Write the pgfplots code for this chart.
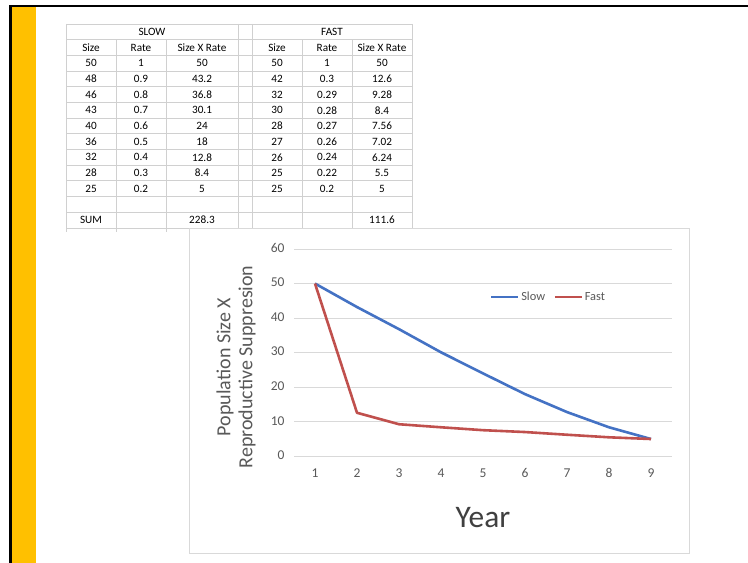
\documentclass[border=0pt]{standalone}
\usepackage{pgfplots}
\pgfplotsset{compat=1.18}
\usepackage{pgfplotstable}
\usepackage{fontspec}
\setmainfont{Carlito}

\definecolor{barYellow}{HTML}{FFC000}
\definecolor{slowBlue}{HTML}{4472C4}
\definecolor{fastRed}{HTML}{C0504D}
\definecolor{gridGray}{HTML}{D9D9D9}
\definecolor{cellGray}{HTML}{D0D0D0}
\definecolor{tickGray}{HTML}{595959}
\definecolor{titleGray}{HTML}{404040}

% Size x rate for each year
\pgfplotstableread{
year slow fast
1 50   50
2 43.2 12.6
3 36.8 9.28
4 30.1 8.4
5 24   7.56
6 18   7.02
7 12.8 6.24
8 8.4  5.5
9 5    5
}\growth

% one row of the worksheet: row number, then seven cells
\newcommand\tabrow[8]{%
  \node at (91, {539-(#1-0.5)*15.69}) {#2};
  \node at (141,{539-(#1-0.5)*15.69}) {#3};
  \node at (202,{539-(#1-0.5)*15.69}) {#4};
  \node at (245,{539-(#1-0.5)*15.69}) {#5};
  \node at (277,{539-(#1-0.5)*15.69}) {#6};
  \node at (327,{539-(#1-0.5)*15.69}) {#7};
  \node at (382,{539-(#1-0.5)*15.69}) {#8};
}

\begin{document}
\begin{tikzpicture}[x=1pt,y=1pt]
\useasboundingbox (0,0) rectangle (748,563);
\fill[white] (0,0) rectangle (748,563);

% slide frame and side bar
\fill[black] (9,558) rectangle (748,555.5);
\fill[black] (9,558) rectangle (12,0);
\fill[barYellow] (12,555.5) rectangle (35.5,0);

% worksheet grid
\begin{scope}[draw=cellGray, line width=0.8pt]
  \foreach \i in {0,...,13}
    \draw (66,{539-\i*15.69}) -- (412,{539-\i*15.69});
  \foreach \xx in {66,238,252,412}
    \draw (\xx,539) -- (\xx,523.3);
  \foreach \xx in {66,116,166,238,252,302,352,412}
    \draw (\xx,523.3) -- (\xx,331);
\end{scope}

% worksheet text
\begin{scope}[font=\fontsize{11.2}{12}\selectfont, text=black, inner sep=0pt]
  \node at (152,{539-0.5*15.69}) {SLOW};
  \node at (332,{539-0.5*15.69}) {FAST};
  \tabrow{2}{Size}{Rate}{Size X Rate}{}{Size}{Rate}{Size X Rate}
  \tabrow{3}{50}{1}{50}{}{50}{1}{50}
  \tabrow{4}{48}{0.9}{43.2}{}{42}{0.3}{12.6}
  \tabrow{5}{46}{0.8}{36.8}{}{32}{0.29}{9.28}
  \tabrow{6}{43}{0.7}{30.1}{}{30}{0.28}{8.4}
  \tabrow{7}{40}{0.6}{24}{}{28}{0.27}{7.56}
  \tabrow{8}{36}{0.5}{18}{}{27}{0.26}{7.02}
  \tabrow{9}{32}{0.4}{12.8}{}{26}{0.24}{6.24}
  \tabrow{10}{28}{0.3}{8.4}{}{25}{0.22}{5.5}
  \tabrow{11}{25}{0.2}{5}{}{25}{0.2}{5}
  \tabrow{13}{SUM}{}{228.3}{}{}{}{111.6}
\end{scope}

% chart area
\filldraw[fill=white, draw=gridGray, line width=0.8pt] (189,335) rectangle (689,10);

\begin{axis}[
  at={(294pt,106.7pt)}, anchor=south west, scale only axis,
  width=378pt, height=207.3pt,
  xmin=0.5, xmax=9.5, ymin=0, ymax=60,
  xtick={1,...,9}, ytick={0,10,...,60},
  axis line style={draw=none}, tick style={draw=none},
  ymajorgrids, major grid style={gridGray, line width=0.8pt},
  /pgf/number format/assume math mode=true,
  tick label style={font=\fontsize{13.5}{15}\selectfont, text=tickGray,
    text height=0.65em, text depth=0pt},
  yticklabel style={anchor=east, xshift=-6pt},
  xticklabel style={anchor=north, yshift=-11pt},
  xlabel={Year}, ylabel={Population Size X\\Reproductive Suppresion},
  every axis x label/.style={at={(axis description cs:0.5,-0.2976)}, anchor=center,
    font=\fontsize{31.4}{34}\selectfont, text=titleGray},
  every axis y label/.style={at={(axis description cs:-0.153,0.431)}, anchor=center,
    rotate=90, align=center, font=\fontsize{20}{22}\selectfont, text=tickGray},
  legend columns=2,
  legend image code/.code={\draw[#1] (0pt,0pt) -- (27pt,0pt);},
  legend style={at={(axis description cs:0.5185,0.768)}, anchor=west,
    draw=none, fill=none, inner sep=0pt,
    font=\fontsize{12.4}{14}\selectfont, text=tickGray,
    nodes={inner sep=1.5pt},
    /tikz/every even column/.append style={column sep=7pt}},
  no markers,
]
\addplot[slowBlue, line width=2.6pt, line join=round] table[x=year,y=slow] {\growth};
\addlegendentry{Slow}
\addplot[fastRed, line width=2.6pt, line join=round] table[x=year,y=fast] {\growth};
\addlegendentry{Fast}
\end{axis}
\end{tikzpicture}
\end{document}
